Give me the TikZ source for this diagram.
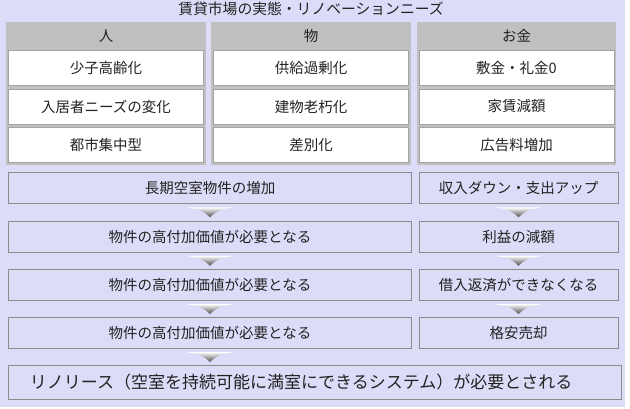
\documentclass[tikz,border=0pt]{standalone}
\usepackage{fontspec}
\setmainfont{Noto Sans CJK JP}
\usetikzlibrary{calc}

\definecolor{lav}{HTML}{DCDCF8}
\definecolor{hdrgray}{HTML}{C0C0C0}
\definecolor{edgegray}{HTML}{8C8C8C}
\definecolor{txt}{HTML}{222222}

\tikzset{
  hdr/.style={text=txt, font=\fontsize{14.5}{15}\selectfont},
  cell/.style={draw=edgegray!80, line width=1pt, fill=white, minimum width=195pt,
    minimum height=35pt, inner sep=0pt, text=txt, font=\fontsize{14.5}{15}\selectfont},
  flow/.style={draw=edgegray, line width=1pt, fill=lav, minimum height=31pt,
    inner sep=0pt, text=txt, font=\fontsize{14.5}{15}\selectfont},
  flowarrow/.pic={
    \shade[top color=white, bottom color=black!70]
      (-24,-5) -- (24,-5) .. controls (8,-2) .. (0,5) .. controls (-8,-2) .. (-24,-5);
  }
}

\begin{document}
\begin{tikzpicture}[x=1pt, y=-1pt]
   \useasboundingbox (0,0) rectangle (630,408);
   \fill[white] (0,0) rectangle (630,408);
   \fill[lav] (0,0) rectangle (625,407);

   % title
   \node[hdr, font=\fontsize{14.8}{15}\selectfont] (title) at (311,9) {賃貸市場の実態・リノベーションニーズ};

   % hito
   \fill[hdrgray] (6,22) rectangle (206,165);
   \node[hdr] (hito) at (106,36) {人};
   \node[cell] (hito1) at (106,68) {少子高齢化};
   \node[cell] (hito2) at (106,106.5) {入居者ニーズの変化};
   \node[cell] (hito3) at (106,145) {都市集中型};

   % mono
   \fill[hdrgray] (211,22) rectangle (411,165);
   \node[hdr] (mono) at (311,36) {物};
   \node[cell] (mono1) at (311,68) {供給過剰化};
   \node[cell] (mono2) at (311,106.5) {建物老朽化};
   \node[cell] (mono3) at (311,145) {差別化};

   % okane
   \fill[hdrgray] (417,22) rectangle (616,165);
   \node[hdr] (kane) at (516.5,36) {お金};
   \node[cell] (kane1) at (516.5,68) {敷金・礼金0};
   \node[cell] (kane2) at (516.5,106.5) {家賃減額};
   \node[cell] (kane3) at (516.5,145) {広告料増加};

   % left flow
   \node[flow, minimum width=403pt] (left1) at (210,188) {長期空室物件の増加};
   \node[flow, minimum width=403pt] (left2) at (210,236.5) {物件の高付加価値が必要となる};
   \node[flow, minimum width=403pt] (left3) at (210,285) {物件の高付加価値が必要となる};
   \node[flow, minimum width=403pt] (left4) at (210,333) {物件の高付加価値が必要となる};

   % right flow
   \node[flow, minimum width=199pt] (right1) at (518.5,188) {収入ダウン・支出アップ};
   \node[flow, minimum width=199pt] (right2) at (518.5,236.5) {利益の減額};
   \node[flow, minimum width=199pt] (right3) at (518.5,285) {借入返済ができなくなる};
   \node[flow, minimum width=199pt] (right4) at (518.5,333) {格安売却};

   % result
   \node[flow, minimum height=34pt, text width=569pt, inner xsep=22pt, align=left,
     font=\fontsize{17}{19}\selectfont] (result) at (314.5,382.5)
     {リノリース（空室を持続可能に満室にできるシステム）が必要とされる};

   \pic at ($(left1.south)!0.5!(left2.north)$) {flowarrow};
   \pic at ($(left2.south)!0.5!(left3.north)$) {flowarrow};
   \pic at ($(left3.south)!0.5!(left4.north)$) {flowarrow};
   \pic at ($(left4.south)!0.5!(result.north -| left4.south)$) {flowarrow};
   \pic at ($(right1.south)!0.5!(right2.north)$) {flowarrow};
   \pic at ($(right2.south)!0.5!(right3.north)$) {flowarrow};
   \pic at ($(right3.south)!0.5!(right4.north)$) {flowarrow};

\end{tikzpicture}
\end{document}
